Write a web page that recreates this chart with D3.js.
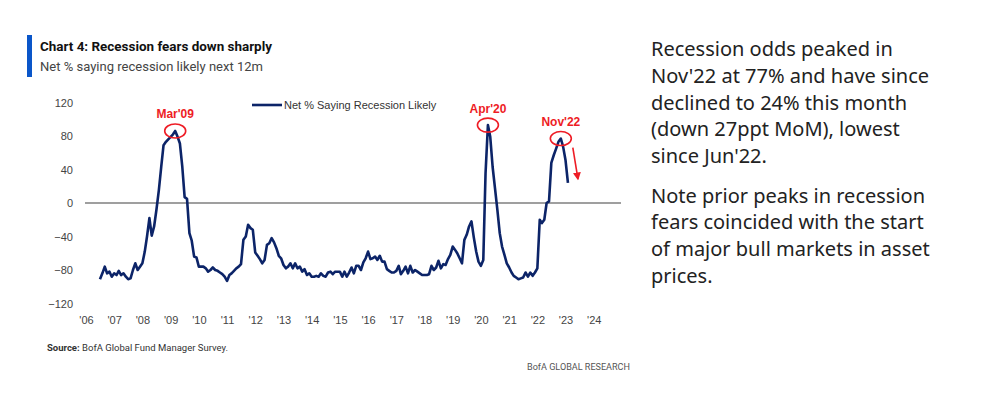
<!DOCTYPE html>
<html>
<head>
  <meta charset="utf-8">
  <title>Recession fears down sharply</title>
  <style>
    body { margin: 0; background: #fff; }
    svg { display: block; }
    .axis text { font-family: "Liberation Sans", Arial, sans-serif; font-size: 11px; fill: #444; }
  </style>
  <script src="https://d3js.org/d3.v7.min.js"></script>
</head>
<body>
  <svg id="chart" width="1000" height="393"></svg>
  <script>
    // monthly series, first value is Jul 2006
    const firstMonth = "2006-07";
    const netSaying = [
      -91, -84, -76, -84, -82, -88,                                   // 2006 Jul-Dec
      -84, -86, -81, -86, -84, -88, -91, -90, -80, -72, -80, -76,     // 2007
      -72, -58, -40, -18, -39, -28, -8, 15, 43, 69, 73, 76,           // 2008
      79, 82, 86, 79, 71, 43, 7, 5, -36, -45, -64, -65,               // 2009
      -76, -76, -76, -78, -82, -80, -77, -80, -81, -83, -85, -88,     // 2010
      -93, -86, -84, -81, -78, -76, -73, -44, -40, -26, -30, -32,     // 2011
      -59, -63, -67, -72, -68, -50, -48, -42, -47, -54, -63, -66,     // 2012
      -74, -78, -76, -72, -78, -72, -78, -76, -82, -79, -86, -84,     // 2013
      -88, -88, -87, -88, -84, -87, -88, -83, -82, -85, -82, -82,     // 2014
      -82, -88, -82, -88, -83, -77, -84, -75, -75, -80, -71, -66,     // 2015
      -58, -67, -66, -64, -68, -63, -70, -70, -79, -81, -83, -83,     // 2016
      -81, -75, -85, -81, -76, -84, -75, -83, -80, -82, -84, -86,     // 2017
      -86, -86, -85, -75, -80, -77, -69, -78, -73, -74, -67, -62,     // 2018
      -52, -56, -60, -66, -72, -44, -38, -28, -22, -41, -58, -70,     // 2019
      -75, -68, 35, 93, 79, 43, 18, -8, -36, -52, -62, -72,           // 2020
      -77, -83, -87, -89, -91, -90, -89, -83, -88, -83, -87, -83,     // 2021
      -78, -20, -24, -20, 0, 2, 48, 57, 65, 73, 77, 67,               // 2022
      51, 24                                                          // 2023 Jan-Feb
    ];

    const yTicks = [120, 80, 40, 0, -40, -80, -120];
    const xTickYears = d3.range(2006, 2025);
    const seriesName = "Net % Saying Recession Likely";

    const peaks = [
      { label: "Mar'09", month: "2009-03" },
      { label: "Apr'20", month: "2020-04" },
      { label: "Nov'22", month: "2022-11" }
    ];

    const title = "Chart 4: Recession fears down sharply";
    const subtitle = "Net % saying recession likely next 12m";
    const noteLines1 = ["Recession odds peaked in", "Nov'22 at 77% and have since",
      "declined to 24% this month", "(down 27ppt MoM), lowest", "since Jun'22."];
    const noteLines2 = ["Note prior peaks in recession", "fears coincided with the start",
      "of major bull markets in asset", "prices."];

    const parseMonth = d3.timeParse("%Y-%m");
    const start = parseMonth(firstMonth);
    const data = netSaying.map(function (v, i) {
      return { date: d3.timeMonth.offset(start, i), value: v };
    });

    const svg = d3.select("#chart");
    const red = "#ee1c25";
    const navy = "#0c2468";

    const x = d3.scaleTime()
      .domain([new Date(2006, 0, 1), new Date(2025, 0, 1)])
      .range([86, 622]);
    const y = d3.scaleLinear().domain([-120, 120]).range([303.5, 102.5]);

    // header
    svg.append("rect").attr("x", 27).attr("y", 35).attr("width", 5).attr("height", 42).attr("fill", "#0a56c9");
    svg.append("text").attr("x", 40).attr("y", 51)
      .attr("textLength", 232).attr("lengthAdjust", "spacingAndGlyphs")
      .style("font-family", "Roboto, sans-serif").style("font-weight", "bold").style("font-size", "13px")
      .style("fill", "#111").text(title);
    svg.append("text").attr("x", 40).attr("y", 71)
      .attr("textLength", 223).attr("lengthAdjust", "spacingAndGlyphs")
      .style("font-family", "Roboto, sans-serif").style("font-size", "13px")
      .style("fill", "#444").text(subtitle);

    // axes
    svg.append("g").attr("class", "axis")
      .attr("transform", "translate(76,0)")
      .call(d3.axisLeft(y).tickValues(yTicks).tickSize(0).tickPadding(3))
      .call(function (g) { g.select(".domain").remove(); });

    svg.append("g").attr("class", "axis")
      .attr("transform", "translate(0,313)")
      .call(d3.axisBottom(x)
        .tickValues(xTickYears.map(function (yr) { return new Date(yr, 0, 1); }))
        .tickFormat(d3.timeFormat("'%y")).tickSize(0).tickPadding(3))
      .call(function (g) { g.select(".domain").remove(); });

    // zero line
    svg.append("line")
      .attr("x1", 85).attr("x2", 621)
      .attr("y1", y(0)).attr("y2", y(0))
      .attr("stroke", "#7f7f7f").attr("stroke-width", 1.3);

    // series
    const line = d3.line()
      .x(function (d) { return x(d.date); })
      .y(function (d) { return y(d.value); });

    svg.append("path").datum(data)
      .attr("d", line)
      .attr("fill", "none")
      .attr("stroke", navy)
      .attr("stroke-width", 2.6)
      .attr("stroke-linejoin", "round");

    // legend
    svg.append("line").attr("x1", 252).attr("x2", 282).attr("y1", 105).attr("y2", 105)
      .attr("stroke", navy).attr("stroke-width", 2.6);
    svg.append("text").attr("x", 284).attr("y", 109)
      .style("font-family", "Liberation Sans, Arial, sans-serif").style("font-size", "11px")
      .style("fill", "#333").text(seriesName);

    // peak annotations
    const peakG = svg.append("g");
    peaks.forEach(function (p) {
      const d = data.find(function (e) { return +e.date === +parseMonth(p.month); });
      const cx = x(d.date), cy = y(d.value);
      peakG.append("ellipse").attr("cx", cx).attr("cy", cy).attr("rx", 10.5).attr("ry", 7)
        .attr("fill", "none").attr("stroke", red).attr("stroke-width", 1.6);
      peakG.append("text").attr("x", cx).attr("y", cy - 12.5)
        .attr("text-anchor", "middle")
        .style("font-family", "Liberation Sans, Arial, sans-serif").style("font-size", "12px")
        .style("font-weight", "bold").style("fill", red).text(p.label);
    });

    // down arrow after the Nov'22 peak
    svg.append("defs").append("marker")
      .attr("id", "head").attr("viewBox", "0 0 10 10").attr("refX", 8).attr("refY", 5)
      .attr("markerWidth", 5).attr("markerHeight", 5).attr("orient", "auto")
      .append("path").attr("d", "M0,0L10,5L0,10z").attr("fill", red);
    const peak22 = data.find(function (e) { return +e.date === +parseMonth("2022-11"); });
    const lastPt = data[data.length - 1];
    svg.append("line")
      .attr("x1", x(peak22.date) + 12).attr("y1", y(peak22.value) + 9)
      .attr("x2", x(lastPt.date) + 10).attr("y2", y(lastPt.value) - 4)
      .attr("stroke", red).attr("stroke-width", 1.6)
      .attr("marker-end", "url(#head)");

    // footer
    const src = svg.append("text").attr("x", 47).attr("y", 351)
      .attr("textLength", 181).attr("lengthAdjust", "spacingAndGlyphs")
      .style("font-family", "Roboto, sans-serif").style("font-size", "9.5px").style("fill", "#333");
    src.append("tspan").style("font-weight", "bold").text("Source:");
    src.append("tspan").text(" BofA Global Fund Manager Survey.");
    svg.append("text").attr("x", 630).attr("y", 370).attr("text-anchor", "end")
      .attr("textLength", 103).attr("lengthAdjust", "spacingAndGlyphs")
      .style("font-family", "Roboto, sans-serif").style("font-size", "9.5px").style("fill", "#555")
      .text("BofA GLOBAL RESEARCH");

    // commentary on the right
    const note = svg.append("g")
      .style("font-family", "Noto Sans, sans-serif").style("font-size", "20px").style("fill", "#222");
    noteLines1.forEach(function (t, i) {
      note.append("text").attr("x", 651).attr("y", 56 + i * 26.8).text(t);
    });
    noteLines2.forEach(function (t, i) {
      note.append("text").attr("x", 651).attr("y", 202.5 + i * 26.8).text(t);
    });
  </script>
</body>
</html>
